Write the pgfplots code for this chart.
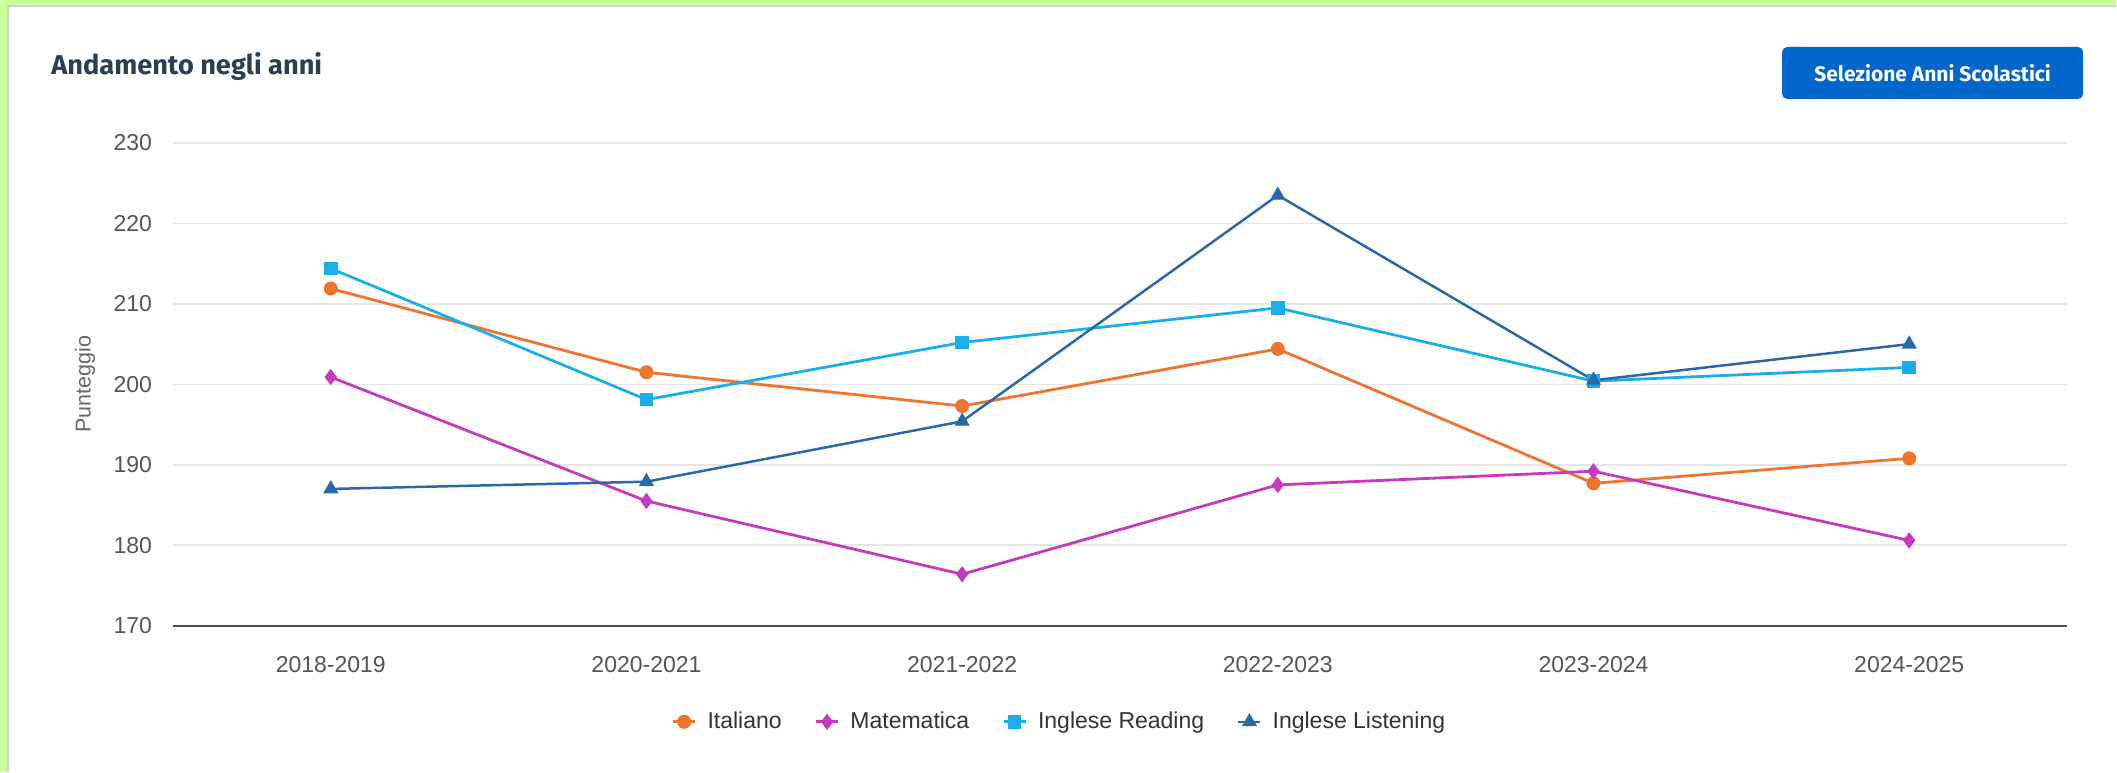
\documentclass[border=0pt]{standalone}
\usepackage{fontspec}
\setmainfont{Liberation Sans}
\newfontfamily\titlefont{Fira Sans}
\usepackage{pgfplots}
\pgfplotsset{compat=1.18}
\definecolor{cIta}{HTML}{EE7430}
\definecolor{cMat}{HTML}{C43BBF}
\definecolor{cRea}{HTML}{1AAFEA}
\definecolor{cLis}{HTML}{2A69A9}
\definecolor{frameg}{HTML}{CCFF99}
\definecolor{titlec}{HTML}{2C3E55}
\definecolor{btnc}{HTML}{0066CC}
\definecolor{tickc}{HTML}{555555}
\definecolor{legc}{HTML}{333333}
\begin{document}
\begin{tikzpicture}
\fill[frameg] (0pt,0pt) rectangle (1058.5pt,-386pt);
\fill[white] (3.5pt,-2.5pt) rectangle (1058.5pt,-386pt);
\draw[black!18, line width=1pt] (4pt,-386pt) -- (4pt,-3pt) -- (1058.5pt,-3pt);
\node[anchor=west, text=titlec, inner sep=0pt, font=\titlefont\bfseries\fontsize{13.6}{15}\selectfont] at (25.5pt,-33.5pt) {Andamento negli anni};
\fill[btnc, rounded corners=2.5pt] (891.5pt,-23.5pt) rectangle (1042pt,-49.5pt);
\node[text=white, inner sep=0pt, font=\titlefont\bfseries\fontsize{10.5}{12}\selectfont] at (966.75pt,-36.5pt) {Selezione Anni Scolastici};
\begin{axis}[
  at={(86.5pt,-313pt)}, anchor=south west,
  scale only axis, width=947.5pt, height=241.5pt,
  xmin=-0.5, xmax=5.5, ymin=170, ymax=230,
  ytick={170,180,...,230},
  xtick={0,1,2,3,4,5},
  xticklabels={2018-2019,2020-2021,2021-2022,2022-2023,2023-2024,2024-2025},
  axis x line*=bottom, axis y line*=left,
  x axis line style={draw=black!70, line width=1pt, -},
  y axis line style={draw=none},
  major tick length=0pt,
  ymajorgrids, grid style={black!10, line width=0.8pt},
  tick label style={font=\fontsize{11.5}{13}\selectfont, text=tickc},
  /pgf/number format/assume math mode=true,
  yticklabel style={xshift=-7pt},
  xticklabel style={yshift=-11.6pt},
  ylabel={Punteggio},
  every axis y label/.style={at={(axis description cs:-0.0464,0.5)}, rotate=90, anchor=center, font=\fontsize{10.75}{12}\selectfont, text=black!60},
  legend columns=4,
  legend style={at={(0.4686,-0.199)}, anchor=center, draw=none, fill=none,
    font=\fontsize{11.5}{13}\selectfont, text=legc,
    /tikz/every even column/.append style={column sep=14.5pt},
    /tikz/every odd column/.append style={column sep=3.5pt}},
  legend image code/.code={\draw[mark repeat=2,mark phase=2] plot coordinates {(0pt,0pt)(5.5pt,0pt)(11pt,0pt)};},
]
\addplot[cIta, line width=1.4pt, mark=*, mark size=3.2pt, mark options={solid, fill=cIta, draw=cIta, line width=0.6pt}] coordinates {
(0,211.9) (1,201.5) (2,197.3) (3,204.4) (4,187.7) (5,190.8)};
\addlegendentry{Italiano}
\addplot[cMat, line width=1.4pt, mark=diamond*, mark size=3.6pt, mark options={solid, fill=cMat, draw=cMat, line width=0.6pt}] coordinates {
(0,200.9) (1,185.5) (2,176.4) (3,187.5) (4,189.2) (5,180.6)};
\addlegendentry{Matematica}
\addplot[cRea, line width=1.4pt, mark=square*, mark size=3.1pt, mark options={solid, fill=cRea, draw=cRea, line width=0.6pt}] coordinates {
(0,214.4) (1,198.1) (2,205.2) (3,209.5) (4,200.4) (5,202.1)};
\addlegendentry{Inglese Reading}
\addplot[cLis, line width=1.25pt, mark=triangle*, mark size=3.8pt, mark options={solid, fill=cLis, draw=cLis, line width=0.6pt}] coordinates {
(0,187.0) (1,187.9) (2,195.4) (3,223.5) (4,200.5) (5,205.0)};
\addlegendentry{Inglese Listening}
\end{axis}
\end{tikzpicture}
\end{document}
